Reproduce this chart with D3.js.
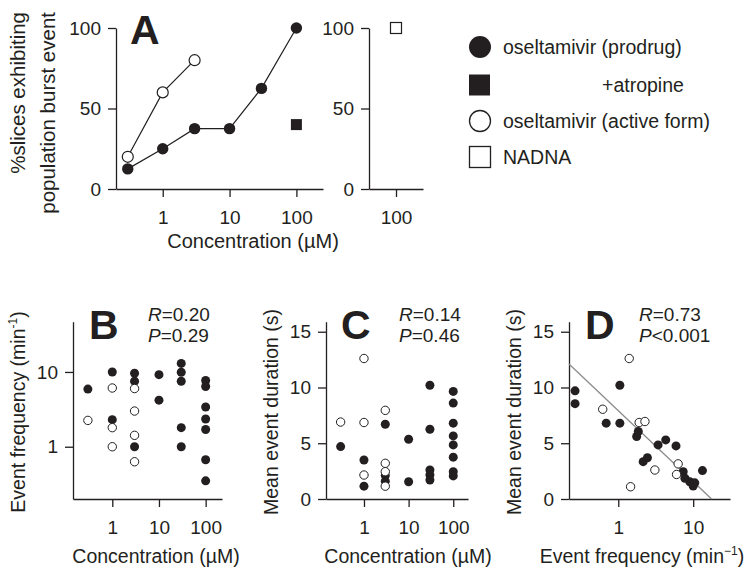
<!DOCTYPE html>
<html>
<head>
<meta charset="utf-8">
<script src="https://cdn.jsdelivr.net/npm/d3@7"></script>
<style>
body { margin: 0; background: #fff; }
svg text { font-family: "Liberation Sans", Arial, sans-serif; fill: #231f20; }
.axis path, .axis line { stroke: #231f20; stroke-width: 1.3; }
.axis text { font-size: 19px; }
</style>
</head>
<body>
<div id="figure"></div>
<script>
// Panel A: % slices exhibiting population burst events
var concA = [0.3, 1, 3, 10, 30, 100];
var prodrugA = [12.5, 25, 37.5, 37.5, 62.5, 100];
var concActiveA = [0.3, 1, 3];
var activeA = [20, 60, 80];
var atropineA = [[100, 40]];
var nadnaA = [["100", 100]];

// Panel B: event frequency (min-1) vs concentration
var freqProdrug = [[0.3, 5.9], [1, 10], [1, 2.3], [3, 9.6], [3, 7.5], [3, 1.0],
    [10, 9.2], [10, 4.2], [30, 13], [30, 9.9], [30, 7.5], [30, 1.8], [30, 1.0],
    [100, 7.7], [100, 6.4], [100, 3.4], [100, 2.35], [100, 1.7], [100, 0.67], [100, 0.35]];
var freqActive = [[0.3, 2.25], [1, 6.1], [1, 1.8], [1, 1.0], [3, 6.0], [3, 3.0], [3, 1.42], [3, 0.63]];

// Panel C: mean event duration (s) vs concentration
var durProdrug = [[0.3, 4.7], [1, 3.5], [1, 1.15], [3, 6.7], [3, 2.1], [3, 1.6],
    [10, 5.36], [10, 1.55], [30, 10.2], [30, 6.26], [30, 2.6], [30, 2.16], [30, 1.7],
    [100, 9.65], [100, 8.6], [100, 6.8], [100, 5.66], [100, 4.85], [100, 3.75], [100, 2.45], [100, 2.07]];
var durActive = [[0.3, 6.9], [1, 12.6], [1, 6.86], [1, 2.15], [3, 7.95], [3, 3.2], [3, 2.45], [3, 1.15]];

// Panel D: mean event duration vs event frequency
var fdProdrug = [[0.265, 9.7], [0.265, 8.55], [0.69, 6.8], [1.05, 10.2], [1.05, 6.8],
    [1.76, 5.6], [1.85, 6.05], [2.15, 3.35], [2.45, 3.7], [3.4, 4.85], [4.3, 5.3],
    [5.9, 4.76], [7.36, 2.45], [7.75, 1.86], [9.0, 1.55], [10, 1.17], [10.5, 1.45], [13.3, 2.55]];
var fdActive = [[0.62, 8.05], [1.4, 12.6], [1.9, 6.86], [2.27, 6.95], [3.08, 2.6],
    [1.46, 1.1], [6.3, 3.15], [6.0, 2.2]];
var fitD = [[0.22, 12.1], [17.6, 0]];

var legendLabels = ["oseltamivir (prodrug)", "+atropine", "oseltamivir (active form)", "NADNA"];

var ink = "#231f20";

var svg = d3.select("#figure")
    .append("svg")
    .attr("width", 744)
    .attr("height", 569);

function panelLetter(txt, x, y) {
    svg.append("text")
        .attr("x", x).attr("y", y)
        .style("font-size", "41px")
        .style("font-weight", "bold")
        .text(txt);
}

// ---------- Panel A ----------
var xA = d3.scaleLog().domain([0.2, 250]).range([116, 323]);
var yA = d3.scaleLinear().domain([0, 100]).range([189, 28]);
var xA2 = d3.scalePoint().domain(["100"]).range([369, 423]).padding(0.5);

svg.append("g").attr("class", "axis")
    .attr("transform", "translate(116,0)")
    .call(d3.axisLeft(yA).tickValues([0, 50, 100]).tickSize(8).tickPadding(7).tickSizeOuter(0));
svg.append("g").attr("class", "axis")
    .attr("transform", "translate(0,189)")
    .call(d3.axisBottom(xA).tickValues([1, 10, 100]).tickFormat(d3.format("d"))
        .tickSize(8).tickPadding(14).tickSizeOuter(0));
svg.append("g").attr("class", "axis")
    .attr("transform", "translate(369,0)")
    .call(d3.axisLeft(yA).tickValues([0, 50, 100]).tickSize(8).tickPadding(7).tickSizeOuter(0));
svg.append("g").attr("class", "axis")
    .attr("transform", "translate(0,189)")
    .call(d3.axisBottom(xA2).tickSize(8).tickPadding(14).tickSizeOuter(0));

var lineA = d3.line().x(d => xA(d[0])).y(d => yA(d[1]));
var prodrugPts = concA.map((c, i) => [c, prodrugA[i]]);
var activePts = concActiveA.map((c, i) => [c, activeA[i]]);

[prodrugPts, activePts].forEach(function(pts) {
    svg.append("path").datum(pts)
        .attr("d", lineA)
        .attr("fill", "none")
        .attr("stroke", ink)
        .attr("stroke-width", 1.2);
});
svg.append("g").selectAll("circle").data(prodrugPts).enter()
    .append("circle")
    .attr("cx", d => xA(d[0])).attr("cy", d => yA(d[1]))
    .attr("r", 5.7).attr("fill", ink);
svg.append("g").selectAll("circle").data(activePts).enter()
    .append("circle")
    .attr("cx", d => xA(d[0])).attr("cy", d => yA(d[1]))
    .attr("r", 5.5).attr("fill", "#fff").attr("stroke", ink).attr("stroke-width", 1.2);
svg.append("g").selectAll("rect").data(atropineA).enter()
    .append("rect")
    .attr("x", d => xA(d[0]) - 5.5).attr("y", d => yA(d[1]) - 5.5)
    .attr("width", 11).attr("height", 11).attr("fill", ink);
svg.append("g").selectAll("rect").data(nadnaA).enter()
    .append("rect")
    .attr("x", d => xA2(d[0]) - 5.5).attr("y", d => yA(d[1]) - 5.5)
    .attr("width", 11).attr("height", 11)
    .attr("fill", "#fff").attr("stroke", ink).attr("stroke-width", 1.2);

svg.append("text")
    .attr("x", 253).attr("y", 248)
    .attr("text-anchor", "middle")
    .style("font-size", "20px")
    .text("Concentration (\u00b5M)");
[["%slices exhibiting", 25], ["population burst event", 55]].forEach(function(l) {
    svg.append("text")
        .attr("transform", "translate(" + l[1] + ",12) rotate(-90)")
        .attr("text-anchor", "end")
        .style("font-size", "20.5px")
        .text(l[0]);
});
panelLetter("A", 130, 44);

// legend
var legend = svg.append("g").attr("transform", "translate(480,0)");
var legendY = [47, 85, 121, 157];
legend.append("circle").attr("cx", 0).attr("cy", legendY[0]).attr("r", 11).attr("fill", ink);
legend.append("rect").attr("x", -11).attr("y", legendY[1] - 10.5).attr("width", 21).attr("height", 21).attr("fill", ink);
legend.append("circle").attr("cx", 0).attr("cy", legendY[2]).attr("r", 10.5)
    .attr("fill", "#fff").attr("stroke", ink).attr("stroke-width", 1.3);
legend.append("rect").attr("x", -10.5).attr("y", legendY[3] - 10.5).attr("width", 21).attr("height", 21)
    .attr("fill", "#fff").attr("stroke", ink).attr("stroke-width", 1.3);
legend.selectAll("text").data(legendLabels).enter()
    .append("text")
    .attr("x", (d, i) => i == 1 ? 122 : 23)
    .attr("y", (d, i) => legendY[i])
    .attr("dy", "0.35em")
    .style("font-size", "19.5px")
    .text(d => d);

// ---------- Panels B, C, D ----------
function scatterPanel(p) {
    var g = svg.append("g");
    g.append("g").attr("class", "axis")
        .attr("transform", "translate(" + p.x.range()[0] + ",0)")
        .call(d3.axisLeft(p.y).tickValues(p.yTicks).tickFormat(d3.format("d"))
            .tickSize(8).tickPadding(7).tickSizeOuter(0));
    g.append("g").attr("class", "axis")
        .attr("transform", "translate(0," + p.y.range()[0] + ")")
        .call(d3.axisBottom(p.x).tickValues(p.xTicks).tickFormat(d3.format("d"))
            .tickSize(8).tickPadding(14).tickSizeOuter(0));

    if (p.fit) {
        g.append("path").datum(p.fit)
            .attr("d", d3.line().x(d => p.x(d[0])).y(d => p.y(d[1])))
            .attr("stroke", "#8c8c8c").attr("stroke-width", 1.3).attr("fill", "none");
    }
    g.append("g").selectAll("circle").data(p.filled).enter()
        .append("circle")
        .attr("cx", d => p.x(d[0])).attr("cy", d => p.y(d[1]))
        .attr("r", 4.5).attr("fill", ink);
    g.append("g").selectAll("circle").data(p.open).enter()
        .append("circle")
        .attr("cx", d => p.x(d[0])).attr("cy", d => p.y(d[1]))
        .attr("r", 4.2).attr("fill", "#fff").attr("stroke", ink).attr("stroke-width", 1);

    var x0 = p.x.range()[0];
    panelLetter(p.letter, p.letterX, 339);

    var st = g.append("text").attr("x", p.statX).attr("y", 321).style("font-size", "19px");
    st.append("tspan").style("font-style", "italic").text("R");
    st.append("tspan").text(p.r);
    var sp = g.append("text").attr("x", p.statX).attr("y", 342).style("font-size", "19px");
    sp.append("tspan").style("font-style", "italic").text("P");
    sp.append("tspan").text(p.p);

    var xt = g.append("text")
        .attr("x", p.xTitleX).attr("y", 563)
        .attr("text-anchor", "middle")
        .style("font-size", "19.5px");
    p.xTitle(xt);

    var yt = g.append("text")
        .attr("transform", "translate(" + (x0 - 48) + ",412) rotate(-90)")
        .attr("text-anchor", "middle")
        .style("font-size", "19.5px");
    p.yTitle(yt);
}

function minusOne(t, pre, sup) {
    t.append("tspan").text(pre);
    t.append("tspan").attr("dy", -8).style("font-size", "12px").text(sup);
    t.append("tspan").attr("dy", 8).text(")");
}

scatterPanel({
    x: d3.scaleLog().domain([0.144, 224]).range([73, 222]),
    y: d3.scaleLog().domain([0.2, 47]).range([499, 321.7]),
    xTicks: [1, 10, 100], yTicks: [1, 10],
    filled: freqProdrug, open: freqActive,
    letter: "B", letterX: 89, statX: 148, r: "=0.20", p: "=0.29",
    xTitleX: 156,
    xTitle: t => t.text("Concentration (\u00b5M)"),
    yTitle: t => minusOne(t, "Event frequency (min", "-1")
});

scatterPanel({
    x: d3.scaleLog().domain([0.141, 214]).range([326, 468]),
    y: d3.scaleLinear().domain([0, 15.9]).range([499, 321.7]),
    xTicks: [1, 10, 100], yTicks: [0, 5, 10, 15],
    filled: durProdrug, open: durActive,
    letter: "C", letterX: 341, statX: 399, r: "=0.14", p: "=0.46",
    xTitleX: 408,
    xTitle: t => t.text("Concentration (\u00b5M)"),
    yTitle: t => t.text("Mean event duration (s)")
});

scatterPanel({
    x: d3.scaleLog().domain([0.22, 31]).range([569, 730]),
    y: d3.scaleLinear().domain([0, 15.9]).range([499, 321.7]),
    xTicks: [1, 10], yTicks: [0, 5, 10, 15],
    filled: fdProdrug, open: fdActive, fit: fitD,
    letter: "D", letterX: 585, statX: 639, r: "=0.73", p: "<0.001",
    xTitleX: 642,
    xTitle: t => minusOne(t, "Event frequency (min", "\u22121"),
    yTitle: t => t.text("Mean event duration (s)")
});
</script>
</body>
</html>
